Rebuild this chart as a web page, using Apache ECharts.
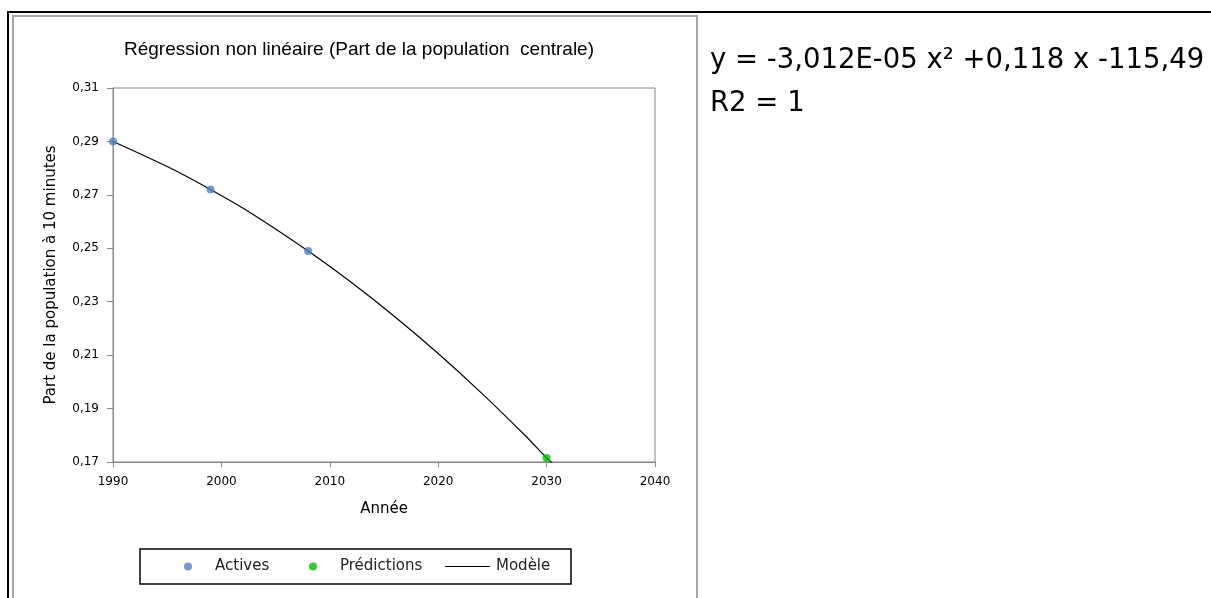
<!DOCTYPE html>
<html>
<head>
<meta charset="utf-8">
<script src="https://cdn.jsdelivr.net/npm/echarts@6/dist/echarts.min.js"></script>
<style>
html,body{margin:0;padding:0;background:#fff;}
#chart{width:1211px;height:598px;}
</style>
</head>
<body>
<div id="chart"></div>
<script>
// Data
var activesYears = [1990, 1999, 2008];
var activesValues = [0.290, 0.272, 0.249];
var predictionYears = [2030];
var predictionValues = [0.1715];
var modelYears = [1990, 1995, 1999, 2003, 2008, 2012, 2016, 2020, 2024, 2028, 2030, 2030.6];
var modelValues = [0.290, 0.2806, 0.272, 0.2625, 0.249, 0.2372, 0.2244, 0.2106, 0.1958, 0.1800, 0.1715, 0.1693];
var xTicks = [1990, 2000, 2010, 2020, 2030, 2040];
var yTicks = [0.17, 0.19, 0.21, 0.23, 0.25, 0.27, 0.29, 0.31];
var titleText = 'Régression non linéaire (Part de la population  centrale)';
var equationText = 'y = -3,012E-05 x² +0,118 x -115,49';
var r2Text = 'R2 = 1';

function pairs(xs, ys){ return xs.map(function(x,i){ return [x, ys[i]]; }); }

var lib = '"Liberation Sans", Arial, sans-serif';
var dv = '"DejaVu Sans", Verdana, sans-serif';
var chart = echarts.init(document.getElementById('chart'));

function legendItem(name, left, icon, w, h, gap){
  return {
    left: left, top: 559, padding: 0, orient: 'horizontal',
    itemWidth: w, itemHeight: h, selectedMode: false,
    textStyle: {fontFamily: dv, fontSize: 15, color: '#222', padding: [0, 0, 0, gap]},
    data: [{name: name, icon: icon}]
  };
}

chart.setOption({
  animation: false,
  backgroundColor: '#fff',
  title: {
    text: titleText,
    left: 354, top: 35, textAlign: 'center',
    textStyle: {fontFamily: lib, fontSize: 19, fontWeight: 'normal', color: '#000'}
  },
  grid: {left: 113, top: 88, width: 542, height: 374, show: true, borderColor: '#868686', borderWidth: 1, backgroundColor: 'transparent'},
  xAxis: {
    type: 'value', min: xTicks[0], max: xTicks[xTicks.length-1], interval: 10,
    name: 'Année', nameLocation: 'middle', nameGap: 40,
    nameTextStyle: {fontFamily: dv, fontSize: 15, color: '#000'},
    axisLine: {lineStyle: {color: '#868686', width: 1}},
    axisTick: {show: true, length: 5, lineStyle: {color: '#868686'}},
    axisLabel: {fontFamily: dv, fontSize: 12, color: '#000', margin: 14,
      formatter: function(v){ return String(v); }},
    splitLine: {show: false}
  },
  yAxis: {
    type: 'value', min: yTicks[0], max: yTicks[yTicks.length-1], interval: 0.02,
    name: 'Part de la population à 10 minutes', nameLocation: 'middle', nameGap: 54,
    nameTextStyle: {fontFamily: dv, fontSize: 15, color: '#000'},
    axisLine: {show: true, lineStyle: {color: '#868686', width: 1}},
    axisTick: {show: true, length: 6, lineStyle: {color: '#868686'}},
    axisLabel: {fontFamily: dv, fontSize: 12, color: '#000', margin: 14,
      formatter: function(v){ return v.toFixed(2).replace('.', ','); }},
    splitLine: {show: false}
  },
  legend: [
    legendItem('Actives', 184, 'circle', 8, 8, 18),
    legendItem('Prédictions', 309, 'circle', 8, 8, 18),
    legendItem('Modèle', 445, 'path://M0,0 L45,0 L45,1 L0,1 Z', 45, 8, 1)
  ],
  series: [
    {name: 'Modèle', type: 'line', data: pairs(modelYears, modelValues), smooth: 0.3, showSymbol: false,
      lineStyle: {color: '#000', width: 1.2}, itemStyle: {color: '#000'}, z: 2},
    {name: 'Actives', type: 'scatter', data: pairs(activesYears, activesValues), symbolSize: 8,
      itemStyle: {color: '#4F81BD'}, z: 3},
    {name: 'Prédictions', type: 'scatter', data: pairs(predictionYears, predictionValues), symbolSize: 8,
      itemStyle: {color: '#00C000'}, z: 3}
  ],
  graphic: [
    {type: 'line', shape: {x1: 8, y1: 12, x2: 1211, y2: 12}, style: {stroke: '#000', lineWidth: 2}},
    {type: 'line', shape: {x1: 8, y1: 11, x2: 8, y2: 598}, style: {stroke: '#000', lineWidth: 2}},
    {type: 'line', shape: {x1: 13, y1: 16, x2: 697, y2: 16}, style: {stroke: '#A6A6A6', lineWidth: 2}},
    {type: 'line', shape: {x1: 13, y1: 15, x2: 13, y2: 598}, style: {stroke: '#A6A6A6', lineWidth: 2}},
    {type: 'line', shape: {x1: 697, y1: 15, x2: 697, y2: 598}, style: {stroke: '#A6A6A6', lineWidth: 2}},
    {type: 'rect', shape: {x: 140, y: 549, width: 431, height: 35}, style: {fill: 'none', stroke: '#000', lineWidth: 1.5}},
    {type: 'text', left: 710, top: 47, style: {text: equationText, font: '27.5px "DejaVu Sans", sans-serif', fill: '#000'}},
    {type: 'text', left: 710, top: 90, style: {text: r2Text, font: '27.5px "DejaVu Sans", sans-serif', fill: '#000'}}
  ]
});
</script>
</body>
</html>
